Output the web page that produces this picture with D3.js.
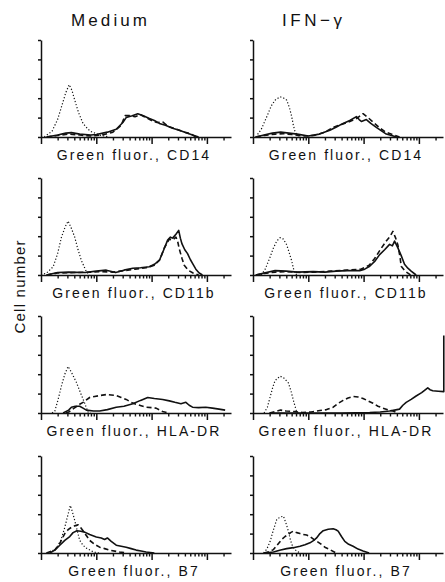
<!DOCTYPE html>
<html>
<head>
<meta charset="utf-8">
<script src="https://cdn.jsdelivr.net/npm/d3@7"></script>
<style>
  body { margin: 0; background: #fff; }
  text { font-family: "Liberation Sans", Arial, Helvetica, sans-serif; fill: #111; }
</style>
</head>
<body>
<div id="chart"></div>
<script>
// Histogram data: [log10 fluorescence, relative cell count (axis top = 100)]
// dotted = control, solid and dashed = stained samples

const colTitles = ["Medium", "IFN\u2212\u03b3"];
const markers = ["CD14", "CD11b", "HLA-DR", "B7"];
const yTicks = [0, 20, 40, 60, 80, 100];

// CD14
const cd14MedCtrl = [[0,0],[0.07,0.5],[0.2,6],[0.3,18],[0.37,31],[0.45,46],[0.51,54],[0.56,48],[0.61,38],[0.68,25],[0.76,14],[0.85,8],[0.91,5.5],[1.06,2],[1.23,0]];
const cd14MedSolid = [[0.1,0],[0.3,2],[0.45,4],[0.55,4.5],[0.7,3],[0.9,2],[1.0,2.5],[1.2,5],[1.36,8],[1.48,15],[1.54,20],[1.65,22],[1.75,24],[1.85,22],[1.96,19],[2.05,17],[2.14,14],[2.25,12],[2.38,9],[2.5,7],[2.6,5],[2.74,2],[2.85,0]];
const cd14MedDash = [[0.1,0],[0.3,1.5],[0.5,3],[0.7,2],[0.9,1],[1.1,2],[1.3,5],[1.45,12],[1.52,22],[1.6,22],[1.7,21],[1.8,23],[1.9,20],[2.0,17],[2.1,15],[2.2,15.5],[2.3,11],[2.45,8],[2.6,5],[2.72,3],[2.8,0]];
const cd14IfnCtrl = [[0.05,0],[0.15,8],[0.25,21],[0.33,32],[0.4,38],[0.49,41.5],[0.56,40],[0.61,38],[0.66,30],[0.7,21],[0.73,12],[0.76,5.5],[0.8,2],[0.86,0]];
const cd14IfnSolid = [[0.05,0],[0.2,2],[0.35,4],[0.5,5],[0.65,4],[0.8,3],[1.0,1],[1.2,3],[1.39,7],[1.5,10],[1.63,14],[1.75,17],[1.87,21],[1.92,18],[1.96,16],[2.05,18],[2.13,14],[2.23,10],[2.33,6],[2.41,3],[2.6,0]];
const cd14IfnDash = [[0.05,0],[0.2,1.5],[0.4,3],[0.55,3.5],[0.7,2.5],[0.9,1],[1.1,1.5],[1.3,5],[1.45,10],[1.6,13],[1.75,16],[1.87,19],[1.99,24],[2.08,20],[2.2,14],[2.3,9],[2.4,5],[2.55,2],[2.65,0]];

// CD11b
const cd11bMedCtrl = [[0,0],[0.1,2],[0.22,8.5],[0.3,22],[0.37,39],[0.44,50],[0.49,55.6],[0.55,48],[0.61,39],[0.67,26],[0.73,15],[0.82,3.5],[0.88,0]];
const cd11bMedSolid = [[0.1,0],[0.3,2.5],[0.5,3],[0.8,2.5],[1.0,4],[1.18,5],[1.35,2.5],[1.5,5],[1.66,7],[1.8,7.5],[1.96,8.5],[2.05,11],[2.14,15],[2.22,26],[2.29,36],[2.34,39],[2.38,38],[2.44,42],[2.49,46],[2.52,38],[2.55,32],[2.6,26],[2.65,22],[2.7,16],[2.74,12],[2.8,6],[2.86,2],[2.92,0]];
const cd11bMedDash = [[0.1,0],[0.3,2],[0.6,2.5],[0.9,3],[1.1,3.5],[1.3,3],[1.5,4.5],[1.7,6],[1.9,7.5],[2.05,10],[2.15,16],[2.23,28],[2.32,37],[2.38,36],[2.44,39],[2.47,35],[2.5,27],[2.55,17],[2.59,10],[2.66,5],[2.75,2],[2.85,0]];
const cd11bIfnCtrl = [[0.15,0],[0.22,6],[0.3,17],[0.37,28],[0.43,35],[0.49,38.5],[0.55,37],[0.61,31],[0.66,22],[0.7,14.5],[0.73,7],[0.76,1.5],[0.8,0]];
const cd11bIfnSolid = [[0.05,0],[0.2,2],[0.4,4.5],[0.6,4],[0.8,3],[1.09,3.5],[1.3,3],[1.5,4],[1.7,4.5],[1.93,4.5],[2.02,6],[2.11,9],[2.2,14],[2.29,21],[2.38,26],[2.47,31.6],[2.52,30],[2.56,35],[2.62,28],[2.68,20],[2.74,11],[2.8,7],[2.86,4],[2.95,0]];
const cd11bIfnDash = [[0.05,0],[0.2,1.5],[0.4,3],[0.6,3.5],[0.9,2.5],[1.1,3],[1.4,4],[1.7,5],[1.95,6],[2.1,10],[2.2,17],[2.3,26],[2.41,35],[2.48,40],[2.53,45],[2.58,38],[2.62,31],[2.66,18],[2.68,9],[2.75,4],[2.85,0]];

// HLA-DR
const hlaMedCtrl = [[0.2,0],[0.25,2],[0.31,14],[0.37,28],[0.43,40],[0.49,48],[0.55,42],[0.64,31.6],[0.72,20],[0.79,10],[0.85,1],[0.9,0]];
const hlaMedSolid = [[0.4,0],[0.5,3],[0.55,6],[0.62,7],[0.7,7],[0.76,5],[0.82,3],[0.95,2],[1.06,2],[1.2,3.5],[1.36,6],[1.5,7],[1.66,9.5],[1.8,13],[1.93,16],[2.05,15],[2.2,14],[2.32,12.5],[2.42,11],[2.53,9.5],[2.62,11],[2.68,8],[2.74,6],[2.85,5.5],[2.98,6],[3.1,5],[3.22,4],[3.33,3]];
const hlaMedDash = [[0.45,0],[0.5,1],[0.6,5],[0.7,9],[0.76,11],[0.88,16],[0.97,17],[1.06,18],[1.18,19],[1.27,18.5],[1.36,18],[1.45,16],[1.54,14],[1.63,11],[1.72,9],[1.81,7.5],[1.9,6],[2.0,5.5],[2.08,5],[2.15,3],[2.2,1.5],[2.3,0]];
const hlaIfnCtrl = [[0.2,0],[0.26,6],[0.31,16.5],[0.36,27],[0.4,33.5],[0.49,38],[0.56,36],[0.64,31],[0.69,22],[0.73,13],[0.77,5],[0.79,1],[0.82,0]];
const hlaIfnSolid = [[0.3,0],[1.0,0],[1.6,0],[2.11,0.5],[2.3,1],[2.47,2],[2.56,3],[2.65,4],[2.71,8],[2.77,11],[2.86,14],[2.95,17.5],[3.05,21],[3.16,26],[3.2,24],[3.25,23],[3.35,22.5],[3.45,22],[3.45,80]];
const hlaIfnDash = [[0.3,0],[0.4,1.5],[0.5,3],[0.6,2],[0.75,1.5],[0.9,0.5],[1.05,1],[1.21,2.5],[1.33,3.5],[1.45,6],[1.54,10],[1.63,13],[1.72,15.5],[1.81,17],[1.9,16.5],[1.99,15],[2.08,12.5],[2.17,10],[2.26,7],[2.35,5],[2.45,3],[2.53,2],[2.62,0]];

// B7
const b7MedCtrl = [[0.1,0],[0.2,2],[0.28,5],[0.36,13],[0.43,26.5],[0.49,40],[0.53,49],[0.57,42],[0.61,33.5],[0.66,22],[0.7,13],[0.76,8],[0.82,5],[0.95,1],[1.05,0]];
const b7MedSolid = [[0.16,0],[0.25,3],[0.34,8],[0.43,13],[0.52,17],[0.58,21],[0.65,23],[0.72,22.5],[0.79,21.5],[0.88,19],[1.0,16.5],[1.09,15.5],[1.15,14],[1.2,15.5],[1.27,12],[1.36,8],[1.45,7],[1.54,6],[1.63,4.5],[1.72,3],[1.81,2],[1.9,1],[2.05,0]];
const b7MedDash = [[0.1,0],[0.25,3],[0.34,10],[0.43,20],[0.49,24],[0.55,26.5],[0.61,28],[0.67,29],[0.72,26],[0.76,23],[0.82,18],[0.88,13],[0.97,9],[1.06,6],[1.15,4.5],[1.24,3],[1.42,1],[1.55,0]];
const b7IfnCtrl = [[0.19,0],[0.25,4],[0.31,12],[0.37,24],[0.43,34.5],[0.49,37],[0.55,38],[0.6,30],[0.64,22.5],[0.67,15],[0.7,9],[0.75,4],[0.79,2],[0.85,0]];
const b7IfnSolid = [[0.2,0],[0.37,1],[0.5,3],[0.61,4.5],[0.73,5.5],[0.85,7],[0.94,8.5],[1.03,10.5],[1.1,13],[1.15,15.5],[1.21,20],[1.27,23],[1.36,24.5],[1.45,25],[1.5,24],[1.54,22.5],[1.6,17],[1.66,12],[1.73,9],[1.81,7],[1.9,4],[1.99,2],[2.1,0]];
const b7IfnDash = [[0.2,0],[0.3,1.5],[0.37,3.5],[0.45,9],[0.52,14],[0.58,17],[0.64,19],[0.68,21],[0.73,22.5],[0.79,21],[0.85,20],[0.91,19],[0.97,18.5],[1.03,17],[1.1,14],[1.21,10],[1.3,6],[1.39,3.5],[1.5,0]];

// panel table built from the arrays above: rows = markers, cols = condition
const panels = [
    [[cd14MedCtrl, cd14MedSolid, cd14MedDash], [cd14IfnCtrl, cd14IfnSolid, cd14IfnDash]],
    [[cd11bMedCtrl, cd11bMedSolid, cd11bMedDash], [cd11bIfnCtrl, cd11bIfnSolid, cd11bIfnDash]],
    [[hlaMedCtrl, hlaMedSolid, hlaMedDash], [hlaIfnCtrl, hlaIfnSolid, hlaIfnDash]],
    [[b7MedCtrl, b7MedSolid, b7MedDash], [b7IfnCtrl, b7IfnSolid, b7IfnDash]]
];

// Layout
const W = 445, H = 582;
const colX = [41, 253];
const rowBase = [137, 275, 413, 553];
const plotH = 97;
const axisLen = 190;
const decadePx = 55.3;
const xMax = Math.pow(10, axisLen / decadePx);

const lineStyles = [
    { dash: "1.2,2", width: 1.2 },     // control, dotted
    { dash: null, width: 1.6 },        // solid
    { dash: "5,3", width: 1.6 }        // dashed
];

const svg = d3.select("#chart")
    .append("svg")
    .attr("width", W)
    .attr("height", H);

// minor + major ticks on the log axis
const majorTicks = [1, 10, 100, 1000].filter(v => v <= xMax);
const minorTicks = [];
majorTicks.forEach(m => {
    for (let k = 2; k <= 9; k++) if (m * k <= xMax) minorTicks.push(m * k);
});

// Column titles
colTitles.forEach((t, i) => {
    svg.append("text")
        .attr("x", i === 0 ? 109 : 312)
        .attr("y", 26)
        .attr("text-anchor", "middle")
        .attr("font-size", 17)
        .attr("textLength", i === 0 ? 76 : 60)
        .attr("lengthAdjust", "spacing")
        .text(t);
});

// Y axis title
svg.append("text")
    .attr("transform", "translate(25,287) rotate(-90)")
    .attr("text-anchor", "middle")
    .attr("font-size", 15)
    .attr("textLength", 93)
    .attr("lengthAdjust", "spacing")
    .text("Cell number");

panels.forEach((row, r) => {
    row.forEach((series, c) => {
        const x0 = colX[c];
        const base = rowBase[r];

        const xScale = d3.scaleLog().domain([1, xMax]).range([x0, x0 + axisLen]);
        const yScale = d3.scaleLinear().domain([0, 100]).range([base, base - plotH]);

        const g = svg.append("g");

        // curves
        const line = d3.line()
            .x(d => xScale(Math.pow(10, d[0])))
            .y(d => yScale(d[1]));

        series.forEach((s, i) => {
            g.append("path")
                .datum(s)
                .attr("fill", "none")
                .attr("stroke", "#111")
                .attr("stroke-width", lineStyles[i].width)
                .attr("stroke-dasharray", lineStyles[i].dash)
                .attr("stroke-linejoin", "round")
                .attr("d", line);
        });

        // y axis
        g.append("g")
            .attr("transform", `translate(${x0},0)`)
            .call(d3.axisLeft(yScale).tickValues(yTicks).tickSize(3).tickSizeOuter(0).tickFormat(""))
            .call(a => a.selectAll("line, path").attr("stroke", "#111").attr("stroke-width", 1.5));

        // x axis: minor ticks
        g.append("g")
            .attr("transform", `translate(0,${base})`)
            .call(d3.axisBottom(xScale).tickValues(minorTicks).tickSize(3.5).tickSizeOuter(0).tickFormat(""))
            .call(a => a.selectAll("line, path").attr("stroke", "#111").attr("stroke-width", 1.4));

        // x axis: major ticks
        g.append("g")
            .attr("transform", `translate(0,${base})`)
            .call(d3.axisBottom(xScale).tickValues(majorTicks).tickSize(7).tickSizeOuter(0).tickFormat(""))
            .call(a => a.selectAll("line").attr("stroke", "#111").attr("stroke-width", 1.5))
            .call(a => a.select(".domain").remove());

        // x label
        g.append("text")
            .attr("x", x0 + 93)
            .attr("y", base + 23)
            .attr("text-anchor", "middle")
            .attr("font-size", 14)
            .attr("letter-spacing", 2.1)
            .text("Green fluor., " + markers[r]);
    });
});
</script>
</body>
</html>
